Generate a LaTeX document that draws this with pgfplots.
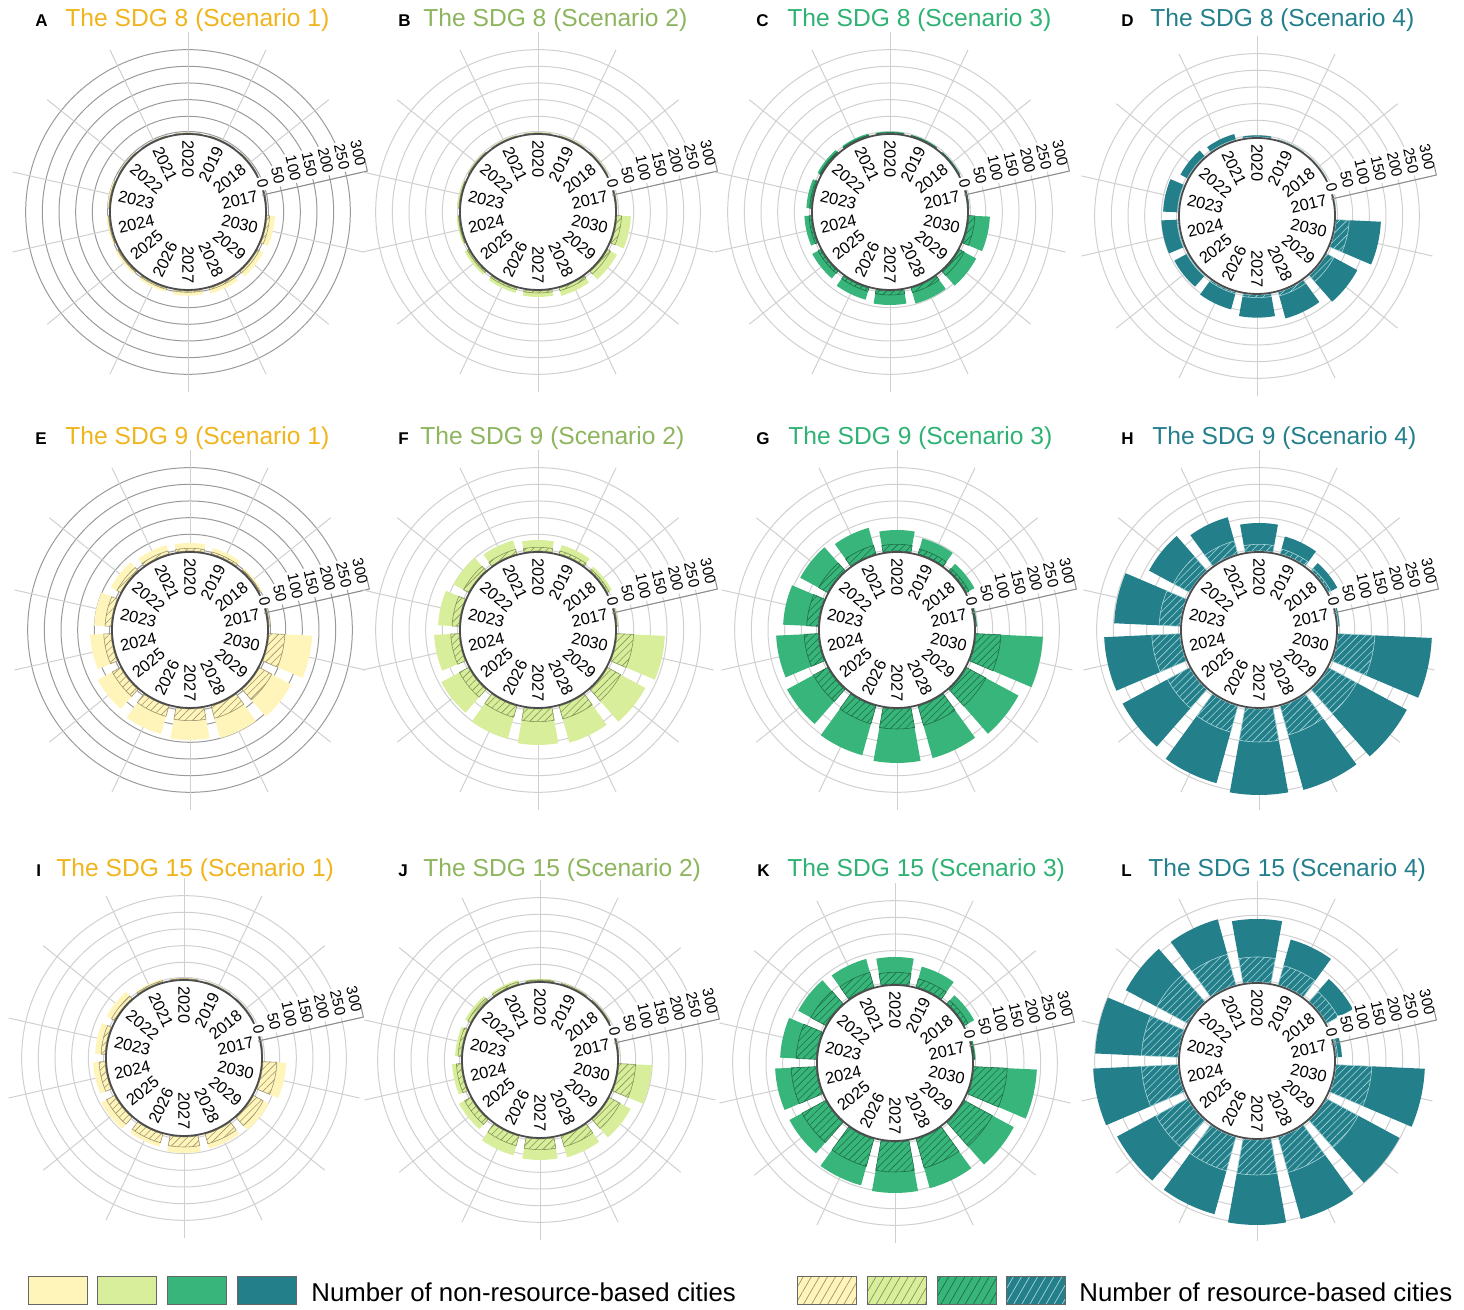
\documentclass[border=0pt]{standalone}
\usepackage{pgfplots}
\pgfplotsset{compat=1.18}
\usepackage{pgfplotstable}
\usetikzlibrary{patterns,patterns.meta}
\usepackage{fontspec}
\setmainfont{Liberation Sans}

\definecolor{sA}{HTML}{FFF5BA}
\definecolor{sB}{HTML}{D9EE9B}
\definecolor{sC}{HTML}{38B57A}
\definecolor{sD}{HTML}{237F8A}
\definecolor{tA}{HTML}{F0B41C}
\definecolor{tB}{HTML}{8DB55E}
\definecolor{tC}{HTML}{2EB273}
\definecolor{tD}{HTML}{247F8C}
\definecolor{hA}{HTML}{9C9470}
\definecolor{hB}{HTML}{83955A}
\definecolor{hC}{HTML}{1F6E45}
\definecolor{hD}{HTML}{A8D4D8}
\definecolor{gridL}{HTML}{D0D0D0}
\definecolor{gridD}{HTML}{9A9A9A}

\pgfdeclareplotmark{nothing}{}
\newcommand\rin{79}
\newcommand\pxu{0.3333}
\newcommand\halfw{10.2}
\newcommand\yearfont{\fontsize{8.2}{9}\selectfont}
\newcommand\tickfont{\fontsize{7.6}{8}\selectfont}
\newcommand\titlefont{\fontsize{12.3}{14}\selectfont}
\newcommand\letterfont{\bfseries\fontsize{8.5}{10}\selectfont}
\newcommand\legfont{\fontsize{12.9}{14}\selectfont}

\pgfplotsset{
  wedgebase/.style={
    scatter, only marks, mark=nothing, point meta=explicit,
    visualization depends on={\thisrow{year} \as \yr},
    visualization depends on={\thisrow{res} \as \vres},
    visualization depends on={\thisrow{non} \as \vnon},
    scatter/@post marker code/.code={},
  },
  totbar/.style={
    wedgebase,
    scatter/@pre marker code/.code={%
      \pgfmathsetmacro\ang{12.8571+25.7143*(\yr-2017)}%
      \pgfmathsetmacro\aA{\ang-\halfw}%
      \pgfmathsetmacro\aB{\ang+\halfw}%
      \pgfmathsetmacro\rB{\rin+\pxu*(\vres+\vnon)}%
      \path[fill=#1,draw=none,x=0.5pt,y=0.5pt] (\aA:\rin) arc[start angle=\aA,end angle=\aB,radius=\rin] -- (\aB:\rB) arc[start angle=\aB,end angle=\aA,radius=\rB] -- cycle;
    },
  },
  hatchbar/.style={
    wedgebase,
    scatter/@pre marker code/.code={%
      \pgfmathsetmacro\ang{12.8571+25.7143*(\yr-2017)}%
      \pgfmathsetmacro\aA{\ang-\halfw}%
      \pgfmathsetmacro\aB{\ang+\halfw}%
      \pgfmathsetmacro\rB{\rin+\pxu*\vres}%
      \path[pattern={Lines[angle=45,distance=2.6pt,line width=0.3pt]},pattern color=#1,draw=#1,line width=0.3pt,x=0.5pt,y=0.5pt] (\aA:\rin) arc[start angle=\aA,end angle=\aB,radius=\rin] -- (\aB:\rB) arc[start angle=\aB,end angle=\aA,radius=\rB] -- cycle;
    },
  },
}

% year, resource-based cities (hatched), non-resource-based cities (solid)
\pgfplotstableread{
year res non
2017 0 0
2018 0 0
2019 0 0
2020 0 1
2021 0 1
2022 0 2
2023 1 4
2024 2 5
2025 3 7
2026 4 8
2027 4 10
2028 5 12
2029 6 14
2030 8 16
}\dA
\pgfplotstableread{
year res non
2017 0 1
2018 0 2
2019 0 2
2020 0 2
2021 0 2
2022 1 2
2023 1 4
2024 2 5
2025 4 9
2026 5 10
2027 6 12
2028 8 16
2029 10 22
2030 14 28
}\dB
\pgfplotstableread{
year res non
2017 0 1
2018 0 2
2019 1 2
2020 1 3
2021 2 5
2022 3 7
2023 4 10
2024 6 14
2025 8 20
2026 10 26
2027 12 30
2028 14 34
2029 16 41
2030 18 45
}\dC
\pgfplotstableread{
year res non
2017 0 0
2018 0 0
2019 0 1
2020 0 5
2021 1 17
2022 1 23
2023 2 43
2024 3 47
2025 3 42
2026 5 49
2027 8 60
2028 12 70
2029 25 80
2030 40 95
}\dD
\pgfplotstableread{
year res non
2017 1 2
2018 3 6
2019 6 12
2020 8 16
2021 9 18
2022 12 21
2023 18 33
2024 22 41
2025 28 50
2026 32 55
2027 35 58
2028 38 62
2029 42 66
2030 48 82
}\dE
\pgfplotstableread{
year res non
2017 1 2
2018 5 10
2019 9 18
2020 11 22
2021 14 28
2022 17 34
2023 21 42
2024 25 50
2025 31 62
2026 35 67
2027 38 70
2028 40 74
2029 45 84
2030 50 94
}\dF
\pgfplotstableread{
year res non
2017 1 2
2018 8 19
2019 15 33
2020 20 43
2021 26 55
2022 30 63
2023 34 71
2024 42 84
2025 48 90
2026 55 98
2027 60 102
2028 60 102
2029 66 111
2030 75 126
}\dG
\pgfplotstableread{
year res non
2017 1 4
2018 8 22
2019 15 39
2020 20 64
2021 40 74
2022 55 83
2023 63 135
2024 85 143
2025 75 153
2026 81 159
2027 99 159
2028 90 171
2029 96 171
2030 111 171
}\dH
\pgfplotstableread{
year res non
2017 0 0
2018 0 0
2019 0 1
2020 1 2
2021 4 5
2022 10 17
2023 12 18
2024 18 18
2025 27 18
2026 27 12
2027 30 18
2028 30 15
2029 33 18
2030 42 28
}\dI
\pgfplotstableread{
year res non
2017 0 1
2018 1 1
2019 1 2
2020 3 3
2021 6 6
2022 9 9
2023 9 9
2024 14 13
2025 20 19
2026 30 30
2027 32 31
2028 33 33
2029 36 36
2030 50 49
}\dJ
\pgfplotstableread{
year res non
2017 2 3
2018 12 21
2019 25 38
2020 35 46
2021 45 42
2022 50 43
2023 60 48
2024 75 48
2025 80 43
2026 85 59
2027 90 63
2028 90 63
2029 95 73
2030 100 89
}\dK
\pgfplotstableread{
year res non
2017 5 13
2018 40 50
2019 60 81
2020 75 114
2021 95 109
2022 105 105
2023 110 139
2024 110 145
2025 108 132
2026 105 135
2027 105 150
2028 110 145
2029 108 141
2030 108 159
}\dL

% #1 cx, #2 cy, #3 table, #4 bar colour, #5 hatch colour, #6 circle colour
\newcommand\panel[6]{%
  \begin{scope}[shift={(#1,#2)}]
    \draw[#6,line width=0.5pt] (0,0) circle[radius=80.5];
    \foreach \k in {1,...,5}{\draw[#6,line width=0.5pt] (0,0) circle[radius={\rin+16.6667*\k}];}
    \foreach \k in {0,...,13}{\draw[gridL,line width=0.5pt] ({12.8571+25.7143*\k}:\rin) -- ({12.8571+25.7143*\k}:180);}
  \end{scope}
  \begin{axis}[at={(#1,#2)},anchor=center,x=0.5pt,y=0.5pt,
      xmin=-190,xmax=190,ymin=-190,ymax=190,hide axis,clip=false]
    \addplot[totbar=#4] table[x expr=0,y expr=0,meta=year] {#3};
    \addplot[hatchbar=#5] table[x expr=0,y expr=0,meta=year] {#3};
  \end{axis}
  \begin{scope}[shift={(#1,#2)}]
    \fill[white] (0,0) circle[radius=78];
    \draw[black!70,line width=0.9pt] (0,0) circle[radius=78];
    \foreach \k in {0,...,13}{%
      \pgfmathsetmacro\a{12.8571+25.7143*\k}%
      \pgfmathtruncatemacro\yy{2017+\k}%
      \pgfmathsetmacro\rot{ifthenelse(and(\a>89,\a<269),\a-180,\a)}%
      \node[rotate=\rot,inner sep=0pt,font=\yearfont] at (\a:53) {\yy};
    }
    \begin{scope}[rotate=12.8571]
      \foreach \v in {0,50,...,300}{\node[rotate=-77.1429,anchor=east,fill=white,inner sep=1.2pt,font=\tickfont] at ({\rin+\pxu*\v},4) {\v};}
      \draw[black!45,line width=0.5pt] (76,0) -- (184,0) -- (184,10);
    \end{scope}
  \end{scope}
}

\begin{document}
\begin{tikzpicture}[x=0.5pt,y=0.5pt]
\useasboundingbox (0,0) rectangle (1464,1310);

\panel{188}{1098}{\dA}{sA}{hA}{gridD}
\panel{538}{1098}{\dB}{sB}{hB}{gridL}
\panel{890}{1098}{\dC}{sC}{hC}{gridL}
\panel{1257}{1094}{\dD}{sD}{hD}{gridL}
\panel{190}{680}{\dE}{sA}{hA}{gridD}
\panel{538}{680}{\dF}{sB}{hB}{gridL}
\panel{897}{680}{\dG}{sC}{hC}{gridL}
\panel{1259}{680}{\dH}{sD}{hD}{gridL}
\panel{184}{252}{\dI}{sA}{hA}{gridL}
\panel{540}{250}{\dJ}{sB}{hB}{gridL}
\panel{895}{247}{\dK}{sC}{hC}{gridL}
\panel{1257}{249}{\dL}{sD}{hD}{gridL}

% titles
\node[anchor=base west,inner sep=0pt,font=\letterfont] at (35,1283) {A};
\node[anchor=base west,inner sep=0pt,font=\titlefont,text=tA] at (65,1283) {The SDG 8 (Scenario 1)};
\node[anchor=base west,inner sep=0pt,font=\letterfont] at (398,1283) {B};
\node[anchor=base west,inner sep=0pt,font=\titlefont,text=tB] at (423,1283) {The SDG 8 (Scenario 2)};
\node[anchor=base west,inner sep=0pt,font=\letterfont] at (756,1283) {C};
\node[anchor=base west,inner sep=0pt,font=\titlefont,text=tC] at (787,1283) {The SDG 8 (Scenario 3)};
\node[anchor=base west,inner sep=0pt,font=\letterfont] at (1121,1283) {D};
\node[anchor=base west,inner sep=0pt,font=\titlefont,text=tD] at (1150,1283) {The SDG 8 (Scenario 4)};

\node[anchor=base west,inner sep=0pt,font=\letterfont] at (35,865) {E};
\node[anchor=base west,inner sep=0pt,font=\titlefont,text=tA] at (65,865) {The SDG 9 (Scenario 1)};
\node[anchor=base west,inner sep=0pt,font=\letterfont] at (398,865) {F};
\node[anchor=base west,inner sep=0pt,font=\titlefont,text=tB] at (420,865) {The SDG 9 (Scenario 2)};
\node[anchor=base west,inner sep=0pt,font=\letterfont] at (756,865) {G};
\node[anchor=base west,inner sep=0pt,font=\titlefont,text=tC] at (788,865) {The SDG 9 (Scenario 3)};
\node[anchor=base west,inner sep=0pt,font=\letterfont] at (1121,865) {H};
\node[anchor=base west,inner sep=0pt,font=\titlefont,text=tD] at (1152,865) {The SDG 9 (Scenario 4)};

\node[anchor=base west,inner sep=0pt,font=\letterfont] at (36,433) {I};
\node[anchor=base west,inner sep=0pt,font=\titlefont,text=tA] at (56,433) {The SDG 15 (Scenario 1)};
\node[anchor=base west,inner sep=0pt,font=\letterfont] at (398,433) {J};
\node[anchor=base west,inner sep=0pt,font=\titlefont,text=tB] at (423,433) {The SDG 15 (Scenario 2)};
\node[anchor=base west,inner sep=0pt,font=\letterfont] at (757,433) {K};
\node[anchor=base west,inner sep=0pt,font=\titlefont,text=tC] at (787,433) {The SDG 15 (Scenario 3)};
\node[anchor=base west,inner sep=0pt,font=\letterfont] at (1121,433) {L};
\node[anchor=base west,inner sep=0pt,font=\titlefont,text=tD] at (1148,433) {The SDG 15 (Scenario 4)};

% legend
\foreach \x/\c in {28/sA,97/sB,167/sC,237/sD}{
  \fill[\c] (\x,5) rectangle ++(59,28);
  \draw[black!60,line width=0.5pt] (\x,5) rectangle ++(59,28);
}
\node[anchor=base west,inner sep=0pt,font=\legfont] at (311,8) {Number of non-resource-based cities};
\foreach \x/\c/\h in {797/sA/hA,867/sB/hB,937/sC/hC,1006/sD/hD}{
  \fill[\c] (\x,5) rectangle ++(59,28);
  \fill[pattern={Lines[angle=60,distance=3.5pt,line width=0.35pt]},pattern color=\h] (\x,5) rectangle ++(59,28);
  \draw[black!60,line width=0.5pt] (\x,5) rectangle ++(59,28);
}
\node[anchor=base west,inner sep=0pt,font=\legfont] at (1079,8) {Number of resource-based cities};
\end{tikzpicture}
\end{document}
